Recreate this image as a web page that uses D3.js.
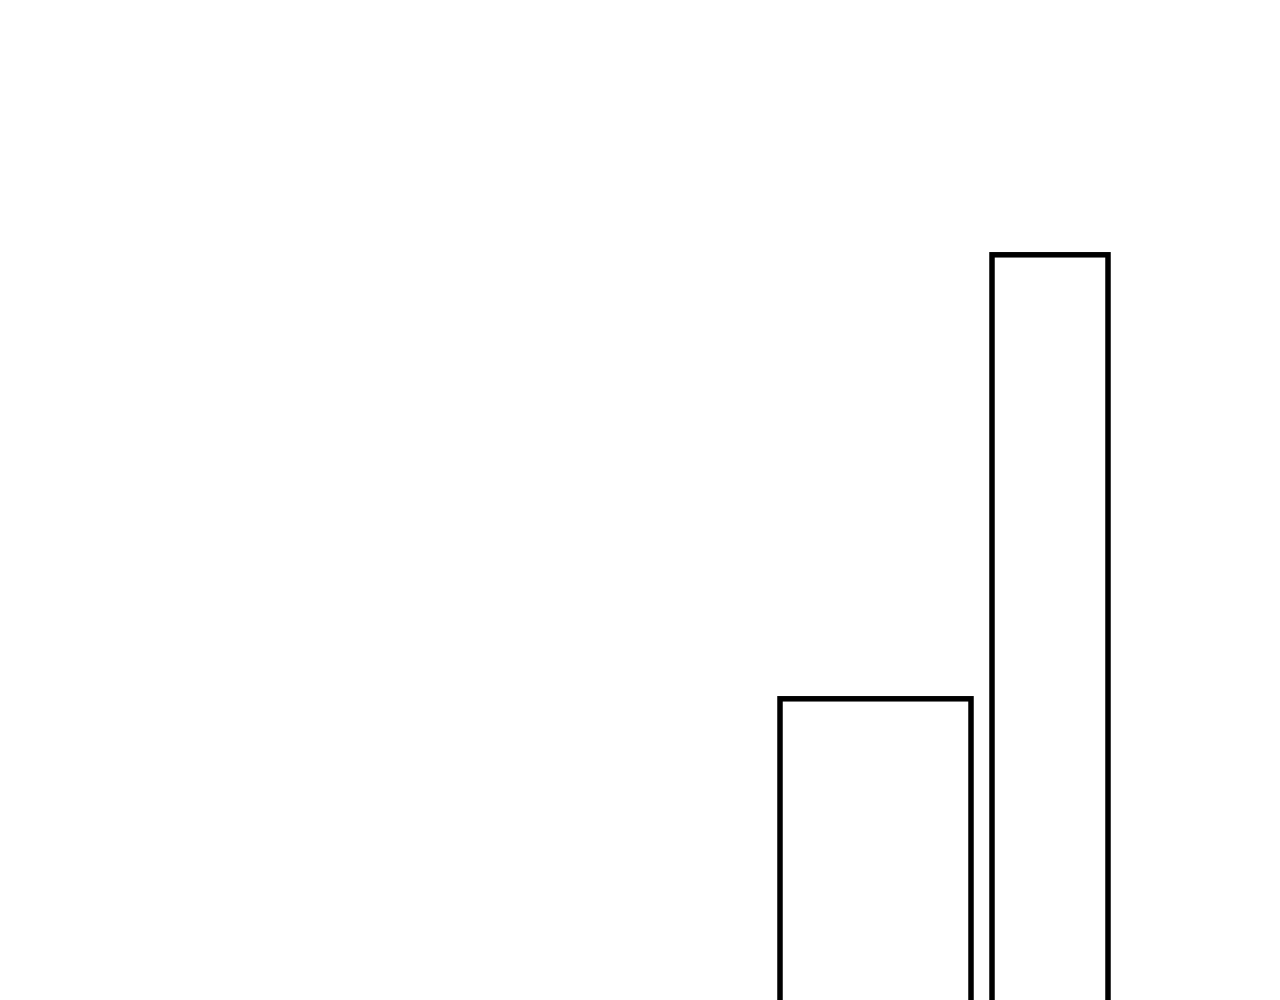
<!DOCTYPE html>
<html>
<head>
<meta charset="utf-8">
<script src="https://cdn.jsdelivr.net/npm/d3@7/dist/d3.min.js"></script>
<style>
  html, body { margin: 0; padding: 0; background: #fff; overflow: hidden; }
</style>
</head>
<body>
<script>
//chart data
var categories = ["A", "B"];
var values = [40, 90];
var weights = [191, 116];
var gapWeight = 21;

//begin script when window loads
window.onload = drawChart();

function drawChart(){

    //frame dimensions
    var width = 1280,
        height = 1000;

    var svg = d3.select("body")
        .append("svg")
        .attr("width", width)
        .attr("height", height);

    //bars run past the bottom of the frame
    var y = d3.scaleLinear()
        .domain([0, 100])
        .range([1054, 166]);

    //variable width bars, laid end to end with a gap
    var total = d3.sum(weights) + gapWeight * (weights.length - 1);
    var x = d3.scaleLinear()
        .domain([0, total])
        .range([780, 1108]);

    var starts = [];
    var acc = 0;
    weights.forEach(function(w){
        starts.push(acc);
        acc += w + gapWeight;
    });

    var bars = categories.map(function(c, i){
        return {cat: c, value: values[i], x0: starts[i], x1: starts[i] + weights[i]};
    });

    svg.selectAll(".bar")
        .data(bars)
        .enter()
        .append("rect")
        .attr("class", "bar")
        .attr("x", function(d){ return x(d.x0); })
        .attr("width", function(d){ return x(d.x1) - x(d.x0); })
        .attr("y", function(d){ return y(d.value); })
        .attr("height", function(d){ return y(0) - y(d.value); })
        .attr("fill", "#fff")
        .attr("stroke", "#000")
        .attr("stroke-width", 5.5);
};
</script>
</body>
</html>
